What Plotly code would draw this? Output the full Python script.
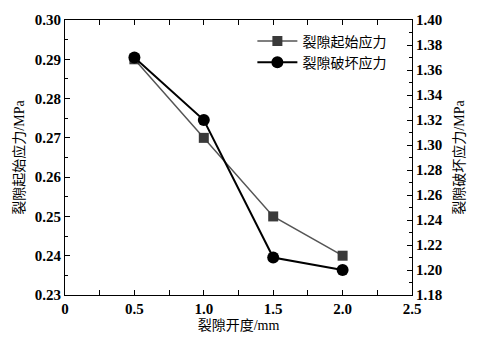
import plotly.graph_objects as go

# Fracture aperture (mm) and the two stress series
aperture = [0.5, 1.0, 1.5, 2.0]
initiation_stress = [0.29, 0.27, 0.25, 0.24]   # left axis, MPa
failure_stress = [1.37, 1.32, 1.21, 1.20]      # right axis, MPa

x_ticks = [0, 0.5, 1.0, 1.5, 2.0, 2.5]
x_ticktext = ["0", "0.5", "1.0", "1.5", "2.0", "2.5"]

serif = "Liberation Serif"
mixed = "Liberation Serif, Noto Sans CJK SC"

fig = go.Figure()
fig.add_trace(go.Scatter(
    x=aperture, y=initiation_stress, name="裂隙起始应力",
    mode="lines+markers",
    line=dict(color="#555555", width=1.5),
    marker=dict(symbol="square", size=10, color="#3a3a3a"),
    yaxis="y",
))
fig.add_trace(go.Scatter(
    x=aperture, y=failure_stress, name="裂隙破坏应力",
    mode="lines+markers",
    line=dict(color="#000000", width=2),
    marker=dict(symbol="circle", size=12, color="#000000"),
    yaxis="y2",
))

axis_common = dict(
    showline=True, linecolor="black", linewidth=1.2,
    ticks="inside", ticklen=5, tickcolor="black", tickwidth=1,
    showgrid=False, zeroline=False,
    tickfont=dict(family=serif, size=15, color="black", weight="bold"),
)
title_font = dict(family=mixed, size=14, color="black")

fig.update_layout(
    width=479, height=343,
    margin=dict(l=65, r=67, t=16, b=46),
    paper_bgcolor="white", plot_bgcolor="white",
    showlegend=True,
    legend=dict(
        x=0.54, y=0.98, xanchor="left", yanchor="top",
        bgcolor="rgba(0,0,0,0)",
        font=dict(family=mixed, size=14, color="black"),
        itemwidth=40, tracegroupgap=2,
    ),
    xaxis=dict(
        **axis_common,
        range=[0, 2.5], tickvals=x_ticks, ticktext=x_ticktext,
        mirror="allticks",
        minor=dict(dtick=0.25, ticks="inside", ticklen=3, tickcolor="black"),
        title=dict(text="裂隙开度/mm", font=title_font, standoff=4),
    ),
    yaxis=dict(
        **axis_common,
        range=[0.23, 0.30], dtick=0.01, tickformat=".2f",
        mirror=True,
        minor=dict(dtick=0.005, ticks="inside", ticklen=3, tickcolor="black"),
        title=dict(text="裂隙起始应力/MPa", font=title_font, standoff=6),
    ),
    yaxis2=dict(
        **axis_common,
        range=[1.18, 1.40], dtick=0.02, tickformat=".2f",
        overlaying="y", side="right",
        minor=dict(dtick=0.01, ticks="inside", ticklen=3, tickcolor="black"),
        title=dict(text="裂隙破坏应力/MPa", font=title_font, standoff=12),
    ),
)

fig.write_html("out.html")
